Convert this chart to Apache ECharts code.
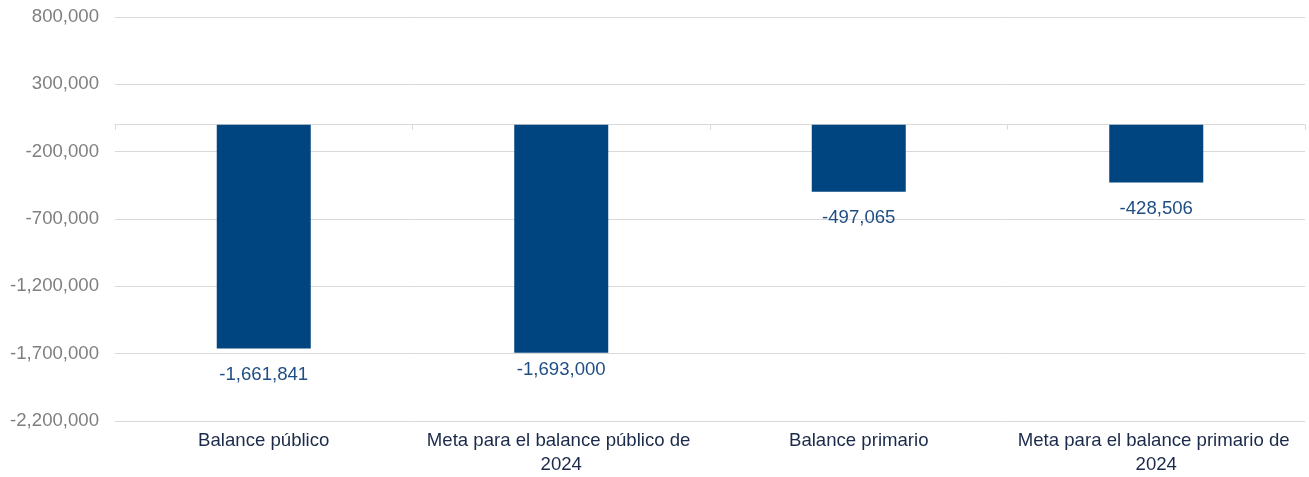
<!DOCTYPE html>
<html>
<head>
<meta charset="utf-8">
<script src="https://cdn.jsdelivr.net/npm/echarts@6/dist/echarts.min.js"></script>
<style>
  html, body { margin: 0; padding: 0; background: #ffffff; }
  #chart { width: 1309px; height: 477px; }
</style>
</head>
<body>
<div id="chart"></div>
<script>
// Categories and balance values (millones)
const categories = [
  'Balance público',
  'Meta para el balance público de 2024',
  'Balance primario',
  'Meta para el balance primario de 2024'
];
const balanceValues = [-1661841, -1693000, -497065, -428506];

// Value axis range and step
const axisMin = -2200000;
const axisMax = 800000;
const axisStep = 500000;

const fmt = v => v.toLocaleString('en-US');

const chart = echarts.init(document.getElementById('chart'), null, { renderer: 'canvas' });

chart.setOption({
  animation: false,
  backgroundColor: '#ffffff',
  textStyle: { fontFamily: 'Liberation Sans, Arial, sans-serif' },
  grid: { left: 115, right: 4, top: 17, bottom: 55, containLabel: false },
  xAxis: [
    {
      // category labels along the bottom of the plot
      type: 'category',
      data: categories,
      position: 'bottom',
      axisLine: { show: false, onZero: false },
      axisTick: { show: false },
      axisLabel: {
        color: '#1b2a4a',
        fontSize: 18.6,
        lineHeight: 24,
        margin: 8,
        width: 292,
        overflow: 'break',
        interval: 0
      },
      splitLine: { show: false }
    },
    {
      // zero line with category boundary ticks
      type: 'category',
      data: categories,
      position: 'top',
      axisLine: { show: true, onZero: true, lineStyle: { color: '#d9d9d9', width: 1 } },
      axisTick: { show: true, inside: true, length: 5, lineStyle: { color: '#d9d9d9' } },
      axisLabel: { show: false },
      splitLine: { show: false }
    }
  ],
  yAxis: {
    type: 'value',
    min: axisMin,
    max: axisMax,
    interval: axisStep,
    axisLine: { show: false },
    axisTick: { show: false },
    axisLabel: {
      color: '#7f7f7f',
      fontSize: 18.6,
      margin: 16,
      formatter: v => fmt(v)
    },
    splitLine: { show: true, lineStyle: { color: '#d9d9d9', width: 1 } }
  },
  series: [
    {
      type: 'bar',
      xAxisIndex: 0,
      data: balanceValues.map((v, i) => (i === 1
        ? { value: v, label: { distance: 8 } }
        : v)),
      barWidth: 94,
      itemStyle: { color: '#00457f' },
      label: {
        show: true,
        position: 'bottom',
        distance: 17,
        color: '#1f4e85',
        fontSize: 18.6,
        formatter: p => fmt(p.value)
      }
    }
  ]
});
</script>
</body>
</html>
